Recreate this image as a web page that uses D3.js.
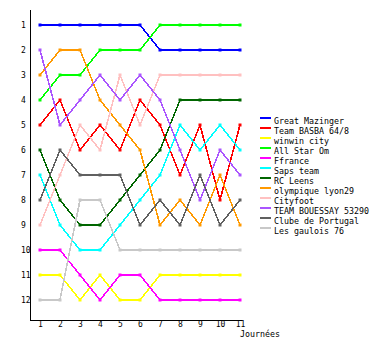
<!DOCTYPE html>
<html><head><meta charset="utf-8">
<script src="https://cdn.jsdelivr.net/npm/d3@7"></script>
<style>
body{margin:0;background:#fff;}
text{font-family:"DejaVu Sans Mono",monospace;font-size:8px;fill:#000;}
</style></head>
<body><svg id="c" width="380" height="350"></svg>
<script>
const rounds = [1,2,3,4,5,6,7,8,9,10,11];
const rankTicks = [1,2,3,4,5,6,7,8,9,10,11,12];
const teams = ["Great Mazinger","Team BASBA 64/8","winwin city","All Star Om","Ffrance","Saps team","RC Leens","olympique lyon29","Cityfoot","TEAM BOUESSAY 53290","Clube de Portugal","Les gaulois 76"];
const colors = ["#0000ff","#ff0000","#ffff00","#00ff00","#ff00ff","#00ffff","#006600","#ff9900","#ffc0c0","#aa55ff","#606060","#c8c8c8"];
const greatMazinger = [1,1,1,1,1,1,2,2,2,2,2];
const teamBasba = [5,4,6,5,6,4,5,7,5,8,5];
const winwinCity = [11,11,12,11,12,12,11,11,11,11,11];
const allStarOm = [4,3,3,2,2,2,1,1,1,1,1];
const ffrance = [10,10,11,12,11,11,12,12,12,12,12];
const sapsTeam = [7,9,10,10,9,8,7,5,6,5,6];
const rcLeens = [6,8,9,9,8,7,6,4,4,4,4];
const olympiqueLyon = [3,2,2,4,5,6,9,8,9,7,9];
const cityfoot = [9,7,5,6,3,5,3,3,3,3,3];
const teamBouessay = [2,5,4,3,4,3,4,6,8,6,7];
const clubePortugal = [8,6,7,7,7,9,8,9,7,9,8];
const lesGaulois = [12,12,8,8,10,10,10,10,10,10,10];
const series = [greatMazinger,teamBasba,winwinCity,allStarOm,ffrance,sapsTeam,rcLeens,olympiqueLyon,cityfoot,teamBouessay,clubePortugal,lesGaulois];
const xLabel = "Journées";

const svg = d3.select("#c");
const x = d3.scaleLinear().domain([1,11]).range([40,240]);
const y = d3.scaleLinear().domain([1,12]).range([25,300]);

// axis lines
svg.append("line").attr("x1",30.5).attr("x2",30.5).attr("y1",10).attr("y2",320.5).attr("stroke","#000").attr("stroke-width",1).attr("shape-rendering","crispEdges");
svg.append("line").attr("x1",30).attr("x2",242).attr("y1",320.5).attr("y2",320.5).attr("stroke","#000").attr("stroke-width",1).attr("shape-rendering","crispEdges");

const yAxis = svg.append("g").attr("transform","translate(21,0)")
  .call(d3.axisLeft(y).tickValues(rankTicks).tickSize(0).tickPadding(0).tickFormat(d3.format("d")));
yAxis.select(".domain").remove();
yAxis.selectAll("text").attr("text-anchor","start").attr("x",0).style("font-family","DejaVu Sans Mono").style("font-size","8px");

const xAxis = svg.append("g").attr("transform","translate(0,320)")
  .call(d3.axisBottom(x).tickValues(rounds).tickSize(0).tickPadding(1).tickFormat(d3.format("d")));
xAxis.select(".domain").remove();
xAxis.selectAll("text").style("font-family","DejaVu Sans Mono").style("font-size","8px");

svg.append("text").attr("x",240).attr("y",337).style("font-size","8.3px").text(xLabel);

const line = d3.line().x((d,i)=>x(rounds[i])).y(d=>y(d));
series.forEach((s,k)=>{
  svg.append("path").attr("d",line(s)).attr("fill","none").attr("stroke",colors[k]).attr("stroke-width",1.6).attr("shape-rendering","crispEdges");
  svg.selectAll(null).data(s).enter().append("rect")
    .attr("x",(d,i)=>x(rounds[i])-1.5).attr("y",d=>y(d)-1.5).attr("width",3).attr("height",3).attr("fill",colors[k]);
});

// legend
const lg = svg.append("g");
teams.forEach((t,k)=>{
  const yy = 118 + k*10;
  lg.append("rect").attr("x",260).attr("y",yy-1).attr("width",11).attr("height",2).attr("fill",colors[k]);
  lg.append("text").attr("x",274).attr("y",yy+6).style("font-size","8.3px").text(t);
});
</script></body></html>
